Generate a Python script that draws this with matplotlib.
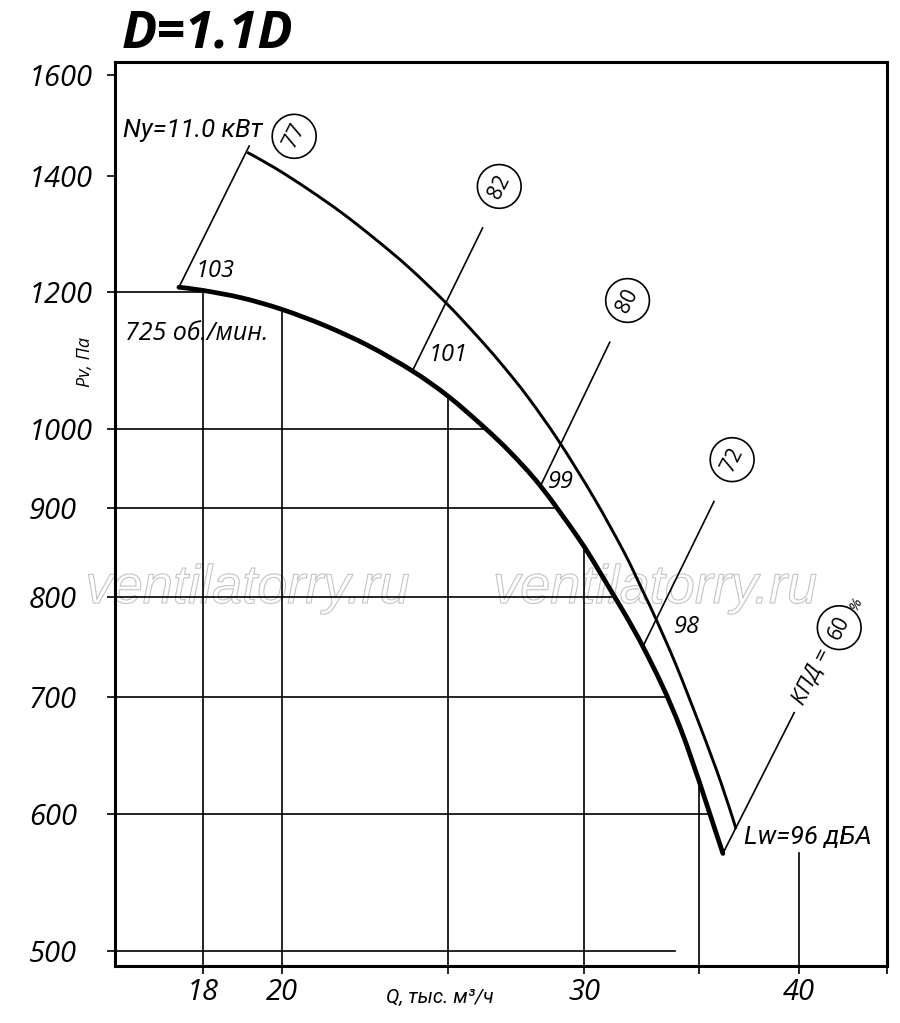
import numpy as np
import matplotlib
matplotlib.use("Agg")
import matplotlib.pyplot as plt
import matplotlib.patheffects as pe
from matplotlib.path import Path
from matplotlib.patches import PathPatch
from matplotlib.ticker import NullLocator, FixedLocator, FixedFormatter

plt.rcParams['font.family'] = ['Open Sans', 'DejaVu Sans']

# ---------------- data ----------------
# main P-Q curve, 725 rpm (thick)
pv_q = [17.43, 18.0, 18.97, 20.01, 21.20, 22.46, 23.83, 25.01, 26.21, 27.18,
        28.29, 29.74, 30.67, 32.45, 34.14, 36.12]
pv_p = [1207, 1202, 1190, 1172, 1147, 1117, 1080, 1044, 1003, 969,
        927, 866, 825, 749, 671, 569]
# upper boundary curve (thin)
up_q = [19.10, 19.83, 20.72, 21.69, 22.67, 23.70, 24.91, 25.93, 26.81, 27.80,
        28.99, 30.38, 31.64, 32.49, 33.02, 33.92, 35.07, 36.03, 36.76]
up_p = [1444, 1414, 1375, 1332, 1287, 1240, 1183, 1134, 1092, 1044,
        984, 913, 849, 804, 777, 731, 672, 625, 588]
# iso lines: start on main curve, end at label side
iso_q0 = [17.43, 23.83, 28.29, 32.45, 36.12]
iso_p0 = [1207, 1080, 927, 749, 569]
iso_q1 = [19.15, 26.18, 31.04, 35.69, 39.74]
iso_p1 = [1456, 1306, 1122, 908, 686]
# efficiency circles
circ_text = ['77', '82', '80', '72']
circ_q = [20.34, 26.77, 31.79, 36.57]
circ_p = [1475, 1380, 1186, 960]
eff_circle = '60'
eff_q, eff_p = 42.21, 768
# noise labels
noise_text = ['103', '101', '99', '98']
noise_q = [17.83, 24.35, 28.56, 33.82]
noise_p = [1223, 1095, 924, 763]
# grid lines
h_levels = [1200, 1000, 900, 800, 700, 600, 500]
h_500_end = 33.87
v_levels = [18, 20, 25, 30, 35, 40]
v_40_end = 569
# ticks
x_ticks = [18, 20, 25, 30, 35, 40, 45]
x_labels = ['18', '20', '', '30', '', '40', '']
y_ticks = [500, 600, 700, 800, 900, 1000, 1200, 1400, 1600]
y_labels = ['500', '600', '700', '800', '900', '1000', '1200', '1400', '1600']

title = 'D=1.1D'
power_label = 'Ny=11.0 кВт'
rpm_label = '725 об./мин.'
lw_label = 'Lw=96 дБА'
x_title = 'Q, тыс. м³/ч'
y_title = 'Pv, Па'
eff_label = 'КПД ='
watermark = 'ventilatorry.ru'

CYR = ['Roboto', 'DejaVu Sans']


def smooth_path(q, p):
    """Smooth (Catmull-Rom as cubic Bezier) path through the read points, in log space."""
    pts = np.column_stack([np.log10(q), np.log10(p)])
    n = len(pts)
    verts = [pts[0]]
    codes = [Path.MOVETO]
    for i in range(n - 1):
        p0 = pts[i - 1] if i > 0 else pts[i]
        p1 = pts[i]
        p2 = pts[i + 1]
        p3 = pts[i + 2] if i + 2 < n else pts[i + 1]
        verts += [p1 + (p2 - p0) / 6.0, p2 - (p3 - p1) / 6.0, p2]
        codes += [Path.CURVE4] * 3
    return Path(10 ** np.array(verts), codes)


# ---------------- figure ----------------
W, H = 900, 1023
fig = plt.figure(figsize=(W / 100, H / 100), dpi=100)
ax = fig.add_axes([115 / W, 1 - 966 / H, 772 / W, 904 / H])
ax.set_xscale('log')
ax.set_yscale('log')
ax.set_xlim(16, 45)
ax.set_ylim(490, 1628)
ax.xaxis.set_major_locator(FixedLocator(x_ticks))
ax.xaxis.set_major_formatter(FixedFormatter(x_labels))
ax.yaxis.set_major_locator(FixedLocator(y_ticks))
ax.yaxis.set_major_formatter(FixedFormatter(y_labels))
ax.xaxis.set_minor_locator(NullLocator())
ax.yaxis.set_minor_locator(NullLocator())
ax.tick_params(axis='both', which='major', direction='out', length=6, width=1.2, color='black')
ax.tick_params(axis='y', pad=56, labelsize=21)
ax.tick_params(axis='x', pad=3, labelsize=21)
for lab in ax.get_xticklabels() + ax.get_yticklabels():
    lab.set_fontstyle('italic')
plt.setp(ax.get_yticklabels(), ha='left')
for sp in ax.spines.values():
    sp.set_linewidth(2.2)

lq = np.log10(pv_q)
lp = np.log10(pv_p)

# grid lines ending at the main curve
for lev in h_levels:
    if lev == 500:
        xe = h_500_end
    else:
        xe = 10 ** np.interp(np.log10(lev), lp[::-1], lq[::-1])
    ax.plot([16, xe], [lev, lev], color='black', lw=1.2, zorder=2)
for lev in v_levels:
    if lev == 40:
        ye = v_40_end
    else:
        ye = 10 ** np.interp(np.log10(lev), lq, lp)
    ax.plot([lev, lev], [490, ye], color='black', lw=1.2, zorder=2)

# curves
ax.add_patch(PathPatch(smooth_path(up_q, up_p), fill=False, ec='black', lw=2.1,
                       capstyle='butt', joinstyle='round', zorder=3))
ax.add_patch(PathPatch(smooth_path(pv_q, pv_p), fill=False, ec='black', lw=3.4,
                       capstyle='round', joinstyle='round', zorder=4))
for q0, p0, q1, p1 in zip(iso_q0, iso_p0, iso_q1, iso_p1):
    ax.plot([q0, q1], [p0, p1], color='black', lw=1.2, zorder=3)

# circles
circ_box = dict(boxstyle='circle,pad=0.48', fc='white', ec='black', lw=1.2)
for t, q, p in zip(circ_text, circ_q, circ_p):
    ax.text(q, p, t, fontsize=15, rotation=63, ha='center', va='center',
            rotation_mode='anchor', zorder=5, bbox=circ_box)
ax.text(eff_q, eff_p, eff_circle, fontsize=15, rotation=63, ha='center', va='center',
        rotation_mode='anchor', zorder=5, bbox=circ_box)
ax.text(39.95, 694, eff_label, fontsize=16, rotation=63, ha='left', va='center',
        rotation_mode='anchor', style='italic', zorder=5)
ax.text(43.2, 793, '%', fontsize=11, rotation=63, ha='center', va='center',
        rotation_mode='anchor', style='italic', zorder=5)

# noise labels
for t, q, p in zip(noise_text, noise_q, noise_p):
    ax.text(q, p, t, fontsize=17, style='italic', ha='left', va='baseline', zorder=5)

ax.text(16.17, 1473, power_label, fontsize=18.5, style='italic', family=CYR,
        ha='left', va='baseline', zorder=5)
ax.text(16.21, 1125, rpm_label, fontsize=18, style='italic', ha='left', va='baseline', zorder=5)
ax.text(37.16, 576, lw_label, fontsize=18.5, style='italic', family=CYR,
        ha='left', va='baseline', zorder=5)

# watermark
for xc in (247.5, 655):
    ax.text(xc / W, 1 - 589 / H, watermark, transform=fig.transFigure, fontsize=39,
            family=['Liberation Sans', 'DejaVu Sans'], style='italic',
            ha='center', va='center', color='none', zorder=1, clip_on=False,
            path_effects=[pe.withStroke(linewidth=0.8, foreground='#c4c4c4')])

# titles
fig.text(122 / W, 1 - 48 / H, title, fontsize=37.5, weight='bold', style='italic',
         ha='left', va='baseline')
fig.text(440 / W, 1 - 997 / H, x_title, fontsize=14.5, style='italic', family=CYR,
         ha='center', va='center')
fig.text(85 / W, 1 - 362 / H, y_title, fontsize=13, style='italic', rotation=90,
         ha='center', va='center')

fig.savefig('out.png', dpi=100)
